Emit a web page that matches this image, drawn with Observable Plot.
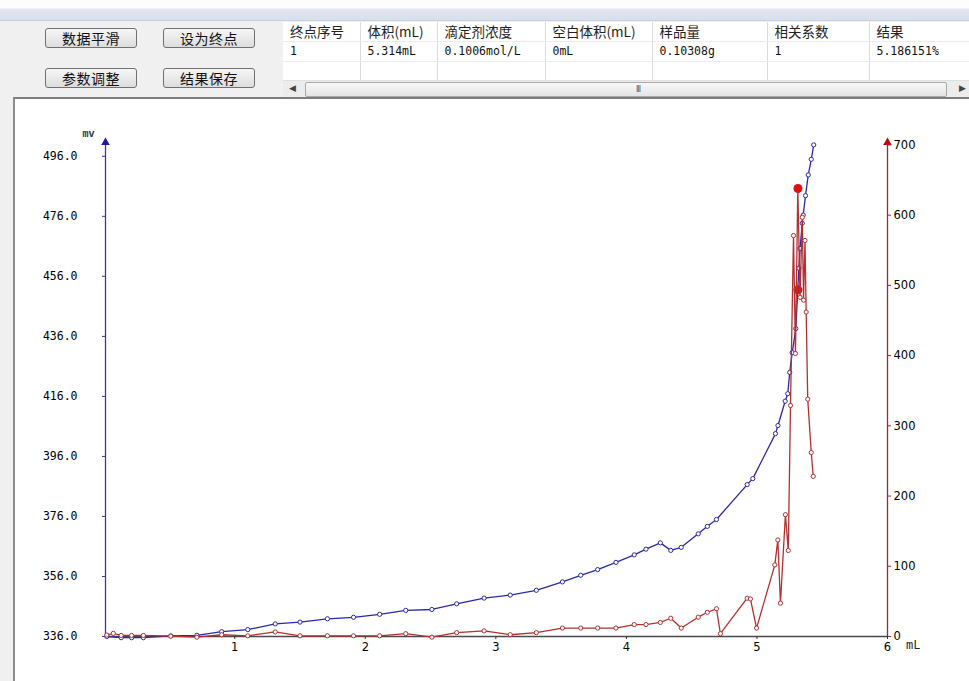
<!DOCTYPE html>
<html><head><meta charset="utf-8">
<script src="https://cdn.jsdelivr.net/npm/d3@7"></script>
<script src="https://cdn.jsdelivr.net/npm/@observablehq/plot@0.6"></script>
<style>
body{margin:0;width:969px;height:681px;overflow:hidden;background:#f0f0f0;position:relative;font-family:"Noto Sans CJK SC",sans-serif}
#topband{position:absolute;left:0;top:0;width:969px;height:20px;background:linear-gradient(to bottom,#fdfdfd 0,#fdfdfd 8px,#e2e6f1 9px,#d9dfec 19px);border-bottom:1px solid #c9cfdc}
.btn{position:absolute;width:90px;height:18px;border:1px solid #707070;border-radius:3px;background:linear-gradient(#f6f6f6,#dddddd);font-size:14px;line-height:18px;text-align:center;color:#111;letter-spacing:0.5px}
#tbl{position:absolute;left:283px;top:22px;width:686px;height:58px;background:#fff;overflow:hidden}
#tbl table{border-collapse:collapse;table-layout:fixed;width:720px}
#tbl td{height:19px;padding:0 0 0 7px;border-right:1px solid #dcdcdc;border-bottom:1px solid #ececec;white-space:nowrap;overflow:hidden;color:#111}
#tbl tr.h td{font-size:13.5px;line-height:19px;color:#222}
#tbl tr.r td{font-family:"DejaVu Sans Mono",monospace;font-size:11.5px;line-height:19px}
#scroll{position:absolute;left:283px;top:80px;width:686px;height:16px;background:#ececec;border-top:1px solid #e0e0e0}
#thumb{position:absolute;left:22px;top:1px;width:640px;height:13px;border:1px solid #a8a8a8;border-radius:2px;background:linear-gradient(#f8f8f8,#e4e4e4)}
#grip{position:absolute;left:330px;top:2px;font-size:8px;color:#555;font-family:"DejaVu Sans",sans-serif;letter-spacing:-1px}
.arr{position:absolute;top:2px;font-size:9px;color:#444;font-family:"DejaVu Sans",sans-serif}
#chartbg{position:absolute;left:13px;top:97px;width:956px;height:584px;background:#fff;border-left:2px solid #8c8c8c;border-top:2px solid #7c7c7c;box-sizing:border-box}
.layer{position:absolute;left:0;top:97px}
</style></head><body>
<div id="topband"></div>
<div class="btn" style="left:45px;top:28px">数据平滑</div>
<div class="btn" style="left:163px;top:28px">设为终点</div>
<div class="btn" style="left:45px;top:68px">参数调整</div>
<div class="btn" style="left:163px;top:68px">结果保存</div>
<div id="tbl"></div>
<div id="scroll"><span class="arr" style="left:6px">◀</span><div id="thumb"><span id="grip">III</span></div><span class="arr" style="left:676px">▶</span></div>
<div id="chartbg"></div>
<div id="c1" class="layer"></div>
<div id="c2" class="layer"></div>
<script>
// ---- table content ----
const headers = ["终点序号","体积(mL)","滴定剂浓度","空白体积(mL)","样品量","相关系数","结果"];
const row1 = ["1","5.314mL","0.1006mol/L","0mL","0.10308g","1","5.186151%"];
const colWidths = [77,77,108,107,115,102,134];

// ---- chart data ----
const blueVol = [0.02,0.13,0.21,0.30,0.51,0.71,0.90,1.10,1.31,1.50,
  1.71,1.91,2.11,2.31,2.51,2.70,2.91,3.11,3.31,3.51,
  3.65,3.78,3.92,4.06,4.15,4.26,4.34,4.42,4.55,4.62,
  4.69,4.925,4.968,5.142,5.161,5.216,5.236,5.251,5.270,5.298,
  5.321,5.330,5.347,5.354,5.372,5.393,5.416,5.435];
const blueMv = [336.0,335.6,335.6,335.6,336.2,336.4,337.6,338.3,340.2,340.8,
  341.9,342.4,343.4,344.7,345.0,346.9,348.8,349.8,351.4,354.2,
  356.4,358.3,360.7,363.2,365.1,367.2,364.7,365.7,370.2,372.7,
  375.0,386.6,388.6,403.6,406.3,414.4,416.9,424.0,430.6,438.6,
  458.7,465.3,473.7,476.4,482.9,489.8,495.0,499.8];
const redVol = [0.02,0.07,0.13,0.21,0.30,0.51,0.71,0.90,1.10,1.31,
  1.50,1.71,1.91,2.11,2.31,2.51,2.70,2.91,3.11,3.31,
  3.51,3.65,3.78,3.92,4.06,4.15,4.26,4.34,4.42,4.55,
  4.62,4.69,4.72,4.925,4.95,4.997,5.137,5.16,5.18,5.218,
  5.24,5.257,5.28,5.295,5.313,5.33,5.347,5.357,5.368,5.377,
  5.389,5.416,5.431];
const redVal = [2,4.5,1.5,1.5,1.5,0.5,-1,2.5,1,6.5,
  1,1,1,1,4,-1,5.5,8,2.5,5.5,
  12,12,12,12,17,17,20,26,12,27.5,
  34.5,39.5,4,54.5,53.5,12,102,137.5,47.5,173.5,
  122.5,329,571,403,638,483,597,479,564,462,
  338,262,228];
const endVol = 5.314, endMv = 451.5, peakVal = 638;
const xTicks = [1,2,3,4,5,6];
const leftTicks = [336,356,376,396,416,436,456,476,496];
const rightTicks = [0,100,200,300,400,500,600,700];
const xDomain = [0.01, 6];
const leftDomain = [336, 500.6];
const rightDomain = [0, 703.5];

// build table
const tbl = document.getElementById("tbl");
const t = document.createElement("table");
const cg = document.createElement("colgroup");
colWidths.forEach(w => { const c = document.createElement("col"); c.style.width = w + "px"; cg.appendChild(c); });
t.appendChild(cg);
[[headers,"h"],[row1,"r"],[headers.map(()=>""),"r"]].forEach(([cells,cls]) => {
  const tr = document.createElement("tr"); tr.className = cls;
  cells.forEach(v => { const td = document.createElement("td"); td.textContent = v; tr.appendChild(td); });
  t.appendChild(tr);
});
tbl.appendChild(t);

const blue = blueVol.map((v,i) => ({v, y: blueMv[i]}));
const red = redVol.map((v,i) => ({v, y: redVal[i]}));

const common = {
  width: 969, height: 584,
  marginLeft: 105, marginRight: 82, marginTop: 45, marginBottom: 45,
  style: {background: "transparent", overflow: "visible", fontFamily: "DejaVu Sans, sans-serif", fontSize: "11px", color: "#000"}
};
const BLUE = "#2a2aa6", BLUE_AX = "#3a3a98", RED = "#b3302f", RED_AX = "#a3262a";

const p1 = Plot.plot({
  ...common,
  x: {domain: xDomain},
  y: {domain: leftDomain},
  marks: [
    Plot.ruleY([336], {stroke: "#4a4a4a", strokeWidth: 1.3}),
    Plot.ruleX([xDomain[0]], {stroke: BLUE_AX, strokeWidth: 1.3}),
    Plot.dot([{v: xDomain[0], y: leftDomain[1]}], {x: "v", y: "y", symbol: "triangle", fill: "#1c1ca0", r: 3.2}),
    Plot.axisY({ticks: leftTicks, tickFormat: d => d.toFixed(1), tickSize: 3, tickPadding: 25, stroke: BLUE_AX,
      fontFamily: "DejaVu Sans Mono, monospace", fontSize: 11.5, label: null, style: {letterSpacing: "0.9px"}}),
    Plot.axisX({ticks: xTicks, tickFormat: d => String(d), tickSize: 3, tickPadding: 3, label: null, stroke: "#333", fontSize: 11.5}),
    Plot.text(["mv"], {frameAnchor: "top-left", dx: -23, dy: -13, fontFamily: "Liberation Mono, monospace", fontSize: 10, fontWeight: "bold", fill: "#333"}),
    Plot.text(["mL"], {frameAnchor: "bottom-right", dx: 33, dy: 12, fontFamily: "Liberation Mono, monospace", fontSize: 12, fill: "#222"}),
    Plot.line(blue, {x: "v", y: "y", stroke: BLUE, strokeWidth: 1.3}),
    Plot.dot(blue, {x: "v", y: "y", r: 2.1, stroke: BLUE, fill: "white", strokeWidth: 1}),
    Plot.dot([{v: endVol, y: endMv}], {x: "v", y: "y", r: 4.5, fill: "#e01010"})
  ]
});
document.getElementById("c1").appendChild(p1);

const p2 = Plot.plot({
  ...common,
  x: {domain: xDomain, axis: null},
  y: {domain: rightDomain, axis: null},
  marks: [
    Plot.ruleX([xDomain[1]], {stroke: RED_AX, strokeWidth: 1.3}),
    Plot.dot([{v: xDomain[1], y: rightDomain[1]}], {x: "v", y: "y", symbol: "triangle", fill: "#b01010", r: 3.2}),
    Plot.axisY({anchor: "right", ticks: rightTicks, tickSize: 3, tickPadding: 3, stroke: RED_AX, label: null, fontSize: 11.5}),
    Plot.line(red, {x: "v", y: "y", stroke: RED, strokeWidth: 1.3}),
    Plot.dot(red, {x: "v", y: "y", r: 2.1, stroke: RED, fill: "white", strokeWidth: 1}),
    Plot.dot([{v: endVol, y: peakVal}], {x: "v", y: "y", r: 4.5, fill: "#e01010"})
  ]
});
document.getElementById("c2").appendChild(p2);
</script>
</body></html>
